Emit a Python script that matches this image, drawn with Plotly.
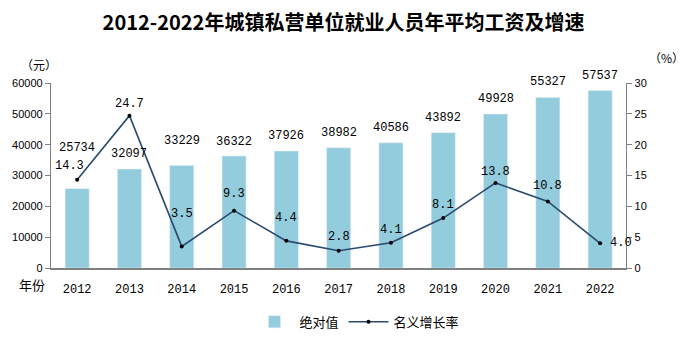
import plotly.graph_objects as go
from plotly.subplots import make_subplots

years = ["2012", "2013", "2014", "2015", "2016", "2017", "2018", "2019", "2020", "2021", "2022"]
wages = [25734, 32097, 33229, 36322, 37926, 38982, 40586, 43892, 49928, 55327, 57537]
growth = [14.3, 24.7, 3.5, 9.3, 4.4, 2.8, 4.1, 8.1, 13.8, 10.8, 4.0]
title_text = "2012-2022年城镇私营单位就业人员年平均工资及增速"

# label offsets (pixels) for readability
bar_label_shift = [41, 15, 25, 14, 15, 15, 15, 15, 15, 15, 15]
line_label_shift = [14, 12, 32, 17, 23, 14, 13, 13, 11, 15, 0]
line_label_xshift = [-8, 0, 0, 0, 0, 0, 0, 0, 0, 0, 21]

BAR_COLOR = "#93CCDD"
LINE_COLOR = "#2B4A6F"
NUM_FONT = "Liberation Mono, DejaVu Sans Mono, monospace"
CJK_FONT = "Noto Sans CJK SC, sans-serif"
TICK_FONT = "Liberation Sans, Arial, sans-serif"

fig = make_subplots(specs=[[{"secondary_y": True}]])
fig.add_trace(go.Bar(x=years, y=wages, name="绝对值", marker_color=BAR_COLOR,
                     width=0.46), secondary_y=False)
fig.add_trace(go.Scatter(x=years, y=growth, name="名义增长率", mode="lines+markers",
                         line=dict(color=LINE_COLOR, width=1.6),
                         marker=dict(color="black", size=4)), secondary_y=True)

ann = []
# category axis: annotation x given as category index
for i, v in enumerate(wages):
    ann.append(dict(x=i, y=v, xref="x", yref="y", text=str(v), showarrow=False,
                    yanchor="middle", yshift=bar_label_shift[i],
                    font=dict(family=NUM_FONT, size=12, color="black")))
for i, g in enumerate(growth):
    ann.append(dict(x=i, y=g, xref="x", yref="y2", text=f"{g:.1f}", showarrow=False,
                    yanchor="middle", yshift=line_label_shift[i], xshift=line_label_xshift[i],
                    font=dict(family=NUM_FONT, size=12, color="black")))
ann += [
    dict(x=-0.02, y=1.10, xref="paper", yref="paper", text="（元）", showarrow=False,
         xanchor="center", yanchor="middle", font=dict(family=CJK_FONT, size=12, color="black")),
    dict(x=1.005, y=1.14, xref="paper", yref="paper", text="（%）", showarrow=False,
         xanchor="center", yanchor="middle", font=dict(family=CJK_FONT, size=12, color="black")),
    dict(x=-0.031, y=-0.089, xref="paper", yref="paper", text="年份", showarrow=False,
         xanchor="center", yanchor="middle", font=dict(family=CJK_FONT, size=13, color="black")),
]

fig.update_layout(
    width=687, height=349,
    margin=dict(l=46, r=24, t=83, b=74),
    paper_bgcolor="white", plot_bgcolor="white",
    title=dict(text=title_text, x=0.5, xanchor="center", y=0.935, yanchor="middle",
               font=dict(family=CJK_FONT, size=20, color="black", weight="bold")),
    annotations=ann,
    showlegend=True,
    legend=dict(orientation="h", x=0.5, xanchor="center", y=-0.21, yanchor="top",
                font=dict(family=CJK_FONT, size=13, color="black"),
                itemwidth=40, traceorder="normal"),
)
fig.update_xaxes(type="category", showline=True, linecolor="#808080", linewidth=1.5, ticks="",
                 tickfont=dict(family=NUM_FONT, size=12, color="black"),
                 ticklabelstandoff=9,
                 showgrid=False, range=[-0.5, 10.5])
fig.update_yaxes(range=[0, 60000], dtick=10000, tickformat="d", showline=True, linecolor="#808080",
                 linewidth=1.2, ticks="outside", ticklen=5, tickcolor="#808080",
                 showgrid=False, zeroline=False,
                 tickfont=dict(family=TICK_FONT, size=11, color="black"),
                 secondary_y=False)
fig.update_yaxes(range=[0, 30], dtick=5, showline=True, linecolor="#808080",
                 linewidth=1.2, ticks="outside", ticklen=5, tickcolor="#808080",
                 showgrid=False, zeroline=False,
                 tickfont=dict(family=TICK_FONT, size=11, color="black"),
                 secondary_y=True)

fig.write_html("out.html")
